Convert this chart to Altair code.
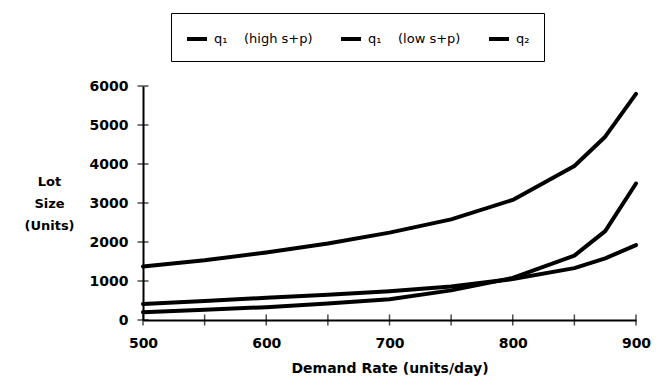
import altair as alt
import pandas as pd

# ---- data ----
demand = [500, 550, 600, 650, 700, 750, 800, 850, 875, 900]
q1_high = [1370, 1530, 1730, 1960, 2240, 2580, 3080, 3950, 4700, 5800]
q1_low = [200, 260, 330, 420, 530, 760, 1080, 1650, 2280, 3500]
q2 = [410, 490, 570, 650, 740, 860, 1050, 1330, 1580, 1920]
NB = "\u00a0"
series_names = ["q\u2081" + NB * 4 + "(high s+p)", "q\u2081" + NB * 4 + "(low s+p)", "q\u2082"]

x_tick_values = [500, 550, 600, 650, 700, 750, 800, 850, 900]
x_label_values = [500, 600, 700, 800, 900]
y_tick_values = [0, 1000, 2000, 3000, 4000, 5000, 6000]

rows = []
for name, vals in zip(series_names, [q1_high, q1_low, q2]):
    for d, v in zip(demand, vals):
        rows.append({"demand": d, "lot": v, "series": name})
df = pd.DataFrame(rows)

FONT = "DejaVu Sans"
W, H = 493, 234

xscale = alt.Scale(domain=[500, 900], nice=False, zero=False)
yscale = alt.Scale(domain=[0, 6000], nice=False)

xaxis = alt.Axis(values=x_label_values, format="d", ticks=False, grid=False,
                 labelPadding=16, labelOverlap=False, labelFlush=False,
                 labelFont=FONT, labelFontSize=14, labelFontWeight="bold",
                 labelColor="black", domainColor="black", domainWidth=2,
                 title="Demand Rate (units/day)", titleFont=FONT, titleFontSize=14,
                 titleFontWeight="bold", titleColor="black", titleY=48,
                 titleBaseline="middle")
yaxis = alt.Axis(values=y_tick_values, format="d", ticks=False, grid=False,
                 labelPadding=15, labelOverlap=False, labelFlush=False,
                 labelFont=FONT, labelFontSize=14, labelFontWeight="bold",
                 labelColor="black", domainColor="black", domainWidth=2,
                 title=["Lot", "Size", "(Units)"], titleAngle=0, titleAlign="center",
                 titleBaseline="top", titleX=-94, titleY=89, titleLineHeight=22,
                 titleFont=FONT, titleFontSize=13, titleFontWeight="bold",
                 titleColor="black")

lines = alt.Chart(df).mark_line(strokeWidth=4, strokeCap="round", strokeJoin="round").encode(
    x=alt.X("demand:Q", scale=xscale, axis=xaxis, title="Demand Rate (units/day)"),
    y=alt.Y("lot:Q", scale=yscale, axis=yaxis, title=["Lot", "Size", "(Units)"]),
    color=alt.Color("series:N", sort=series_names,
                    scale=alt.Scale(domain=series_names, range=["black", "black", "black"]),
                    legend=alt.Legend(title=None, orient="none", direction="horizontal",
                                      legendX=28, legendY=-73, strokeColor="black",
                                      padding=14, columnPadding=20, symbolType="stroke",
                                      symbolSize=400, symbolStrokeWidth=4,
                                      labelFont=FONT, labelFontSize=13, labelColor="black",
                                      labelLimit=300, labelOffset=5)),
)

xt = alt.Chart(pd.DataFrame({"v": x_tick_values})).mark_tick(
    orient="vertical", size=11, thickness=1.5, color="black").encode(
    x=alt.X("v:Q", scale=xscale, axis=xaxis, title="Demand Rate (units/day)"),
    y=alt.value(H))

yt = alt.Chart(pd.DataFrame({"v": y_tick_values})).mark_tick(
    orient="horizontal", size=11, thickness=1.5, color="black").encode(
    y=alt.Y("v:Q", scale=yscale, axis=yaxis, title=["Lot", "Size", "(Units)"]),
    x=alt.value(0))

chart = alt.layer(lines, xt, yt).properties(
    width=W, height=H,
    autosize=alt.AutoSizeParams(type="none"),
    padding={"left": 143, "top": 86, "right": 26, "bottom": 61},
    background="white",
).configure_view(stroke=None)

chart.save("out.html", embed_options={"renderer": "svg", "actions": False})
